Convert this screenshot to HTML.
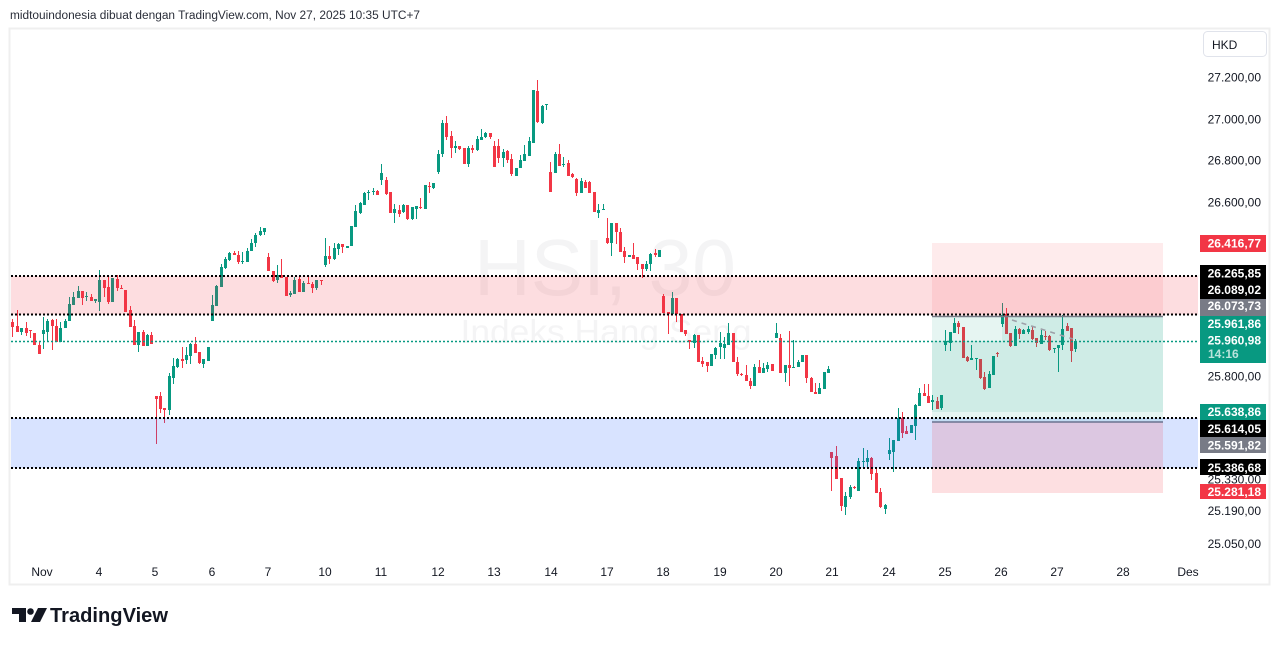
<!DOCTYPE html>
<html>
<head>
<meta charset="utf-8">
<style>
html,body{margin:0;padding:0;background:#fff;}
svg{display:block;}
text{font-family:"Liberation Sans",Arial,sans-serif;}
</style>
</head>
<body>
<svg width="1281" height="646" viewBox="0 0 1281 646" xmlns="http://www.w3.org/2000/svg">
<rect width="1281" height="646" fill="#ffffff"/>
<text x="10" y="19" font-size="11.5" fill="#2a2e39" textLength="410" lengthAdjust="spacingAndGlyphs">midtouindonesia dibuat dengan TradingView.com, Nov 27, 2025 10:35 UTC+7</text>
<rect x="9.5" y="28.5" width="1260" height="556" fill="none" stroke="#efefef" stroke-width="2"/>

<!-- watermark -->
<text x="605" y="295" font-size="80" fill="#f4f4f5" text-anchor="middle" textLength="262" lengthAdjust="spacingAndGlyphs">HSI, 30</text>
<text x="606" y="343" font-size="33" fill="#f4f4f5" text-anchor="middle" textLength="291" lengthAdjust="spacingAndGlyphs">Indeks Hang Seng</text>

<!-- green wicks -->
<path fill="none" stroke="#089981" stroke-width="1" d="M21.5 328V335 M43.5 317V349 M47.5 319V341 M60.5 322V342 M65.5 319V328 M69.5 297V321 M73.5 292V305 M78.5 286V298 M86.5 292V301 M95.5 299V303 M99.5 270V311 M112.5 278V302 M138.5 332V352 M147.5 334V346 M169.5 373V415 M173.5 358V384 M177.5 358V368 M186.5 347V364 M190.5 343V364 M203.5 359V368 M208.5 347V361 M212.5 295V321 M216.5 285V306 M221.5 264V287 M225.5 257V269 M229.5 252V261 M242.5 252V264 M247.5 248V262 M251.5 239V251 M255.5 233V247 M260.5 227V236 M264.5 228V235 M277.5 265V283 M290.5 291V297 M294.5 277V294 M303.5 281V292 M316.5 280V290 M325.5 238V267 M334.5 243V260 M338.5 243V255 M347.5 246V248 M351.5 226V246 M355.5 205V227 M360.5 202V214 M364.5 192V205 M368.5 190V200 M373.5 188V195 M381.5 164V185 M394.5 204V223 M403.5 204V213 M412.5 207V220 M416.5 206V219 M425.5 185V209 M433.5 183V189 M438.5 150V174 M442.5 120V157 M455.5 141V153 M468.5 146V167 M477.5 136V151 M481.5 129V140 M485.5 132V138 M503.5 149V167 M516.5 168V176 M520.5 155V168 M524.5 145V161 M529.5 137V156 M533.5 90V143 M542.5 105V124 M546.5 104V110 M555.5 152V173 M563.5 157V167 M581.5 178V193 M598.5 204V218 M603.5 204V210 M611.5 223V256 M629.5 255V257 M646.5 261V271 M650.5 253V271 M659.5 250V257 M672.5 292V314 M694.5 334V348 M711.5 354V366 M715.5 347V359 M720.5 332V359 M724.5 337V359 M728.5 323V345 M754.5 364V386 M763.5 363V373 M767.5 362V372 M776.5 323V338 M785.5 365V382 M793.5 340V368 M798.5 360V367 M802.5 355V362 M819.5 383V394 M824.5 372V389 M828.5 366V373 M845.5 492V515 M850.5 485V499 M858.5 458V491 M863.5 448V468 M867.5 450V467 M885.5 504V514 M889.5 438V460 M893.5 440V472 M898.5 408V441 M911.5 425V433 M915.5 404V440 M919.5 388V406 M932.5 395V410 M941.5 395V410 M945.5 330V351 M950.5 332V351 M954.5 318V333 M971.5 345V360 M976.5 358V370 M989.5 371V388 M993.5 356V375 M1002.5 303V327 M1015.5 326V346 M1023.5 329V334 M1028.5 326V334 M1041.5 330V344 M1054.5 348V353 M1058.5 345V372 M1062.5 315V350 M1075.5 339V352"/>
<!-- green bodies -->
<path fill="#089981" d="M20 328h3V332h-3z M42 330h3V334h-3z M46 321h3V332h-3z M59 328h3V342h-3z M64 321h3V328h-3z M68 304h3V321h-3z M72 297h3V305h-3z M77 291h3V298h-3z M85 296h3V297h-3z M94 299h3V301h-3z M98 280h3V302h-3z M111 278h3V302h-3z M137 332h3V345h-3z M146 335h3V346h-3z M168 376h3V410h-3z M172 366h3V378h-3z M176 359h3V367h-3z M185 355h3V360h-3z M189 344h3V356h-3z M202 359h3V364h-3z M207 347h3V361h-3z M211 305h3V321h-3z M215 286h3V306h-3z M220 267h3V287h-3z M224 259h3V268h-3z M228 253h3V260h-3z M241 261h3V262h-3z M246 251h3V262h-3z M250 243h3V251h-3z M254 235h3V243h-3z M259 231h3V235h-3z M263 228h3V232h-3z M276 275h3V280h-3z M289 293h3V295h-3z M293 280h3V294h-3z M302 283h3V292h-3z M315 280h3V288h-3z M324 256h3V265h-3z M333 248h3V259h-3z M337 244h3V249h-3z M346 246h3V248h-3z M350 226h3V246h-3z M354 211h3V227h-3z M359 203h3V213h-3z M363 193h3V205h-3z M367 192h3V193h-3z M372 191h3V192h-3z M380 173h3V180h-3z M393 209h3V213h-3z M402 205h3V212h-3z M411 207h3V219h-3z M415 206h3V209h-3z M424 185h3V209h-3z M432 183h3V188h-3z M437 154h3V172h-3z M441 123h3V154h-3z M454 146h3V148h-3z M467 148h3V164h-3z M476 139h3V150h-3z M480 137h3V140h-3z M484 133h3V137h-3z M502 152h3V158h-3z M515 168h3V176h-3z M519 160h3V168h-3z M523 154h3V161h-3z M528 141h3V156h-3z M532 90h3V143h-3z M541 106h3V123h-3z M545 104h3V105h-3z M554 154h3V173h-3z M562 164h3V165h-3z M580 181h3V193h-3z M597 210h3V213h-3z M602 209h3V210h-3z M610 223h3V243h-3z M628 255h3V257h-3z M645 264h3V269h-3z M649 254h3V264h-3z M658 250h3V257h-3z M671 298h3V314h-3z M693 335h3V343h-3z M710 354h3V366h-3z M714 348h3V355h-3z M719 343h3V347h-3z M723 344h3V348h-3z M727 333h3V345h-3z M753 367h3V386h-3z M762 368h3V373h-3z M766 365h3V369h-3z M775 333h3V338h-3z M784 365h3V373h-3z M792 367h3V368h-3z M797 362h3V367h-3z M801 355h3V362h-3z M818 388h3V394h-3z M823 372h3V389h-3z M827 369h3V373h-3z M844 496h3V507h-3z M849 487h3V497h-3z M857 461h3V491h-3z M862 461h3V462h-3z M866 458h3V462h-3z M884 505h3V509h-3z M888 450h3V454h-3z M892 440h3V452h-3z M897 418h3V441h-3z M910 425h3V433h-3z M914 405h3V426h-3z M918 393h3V406h-3z M931 400h3V402h-3z M940 395h3V408h-3z M944 341h3V345h-3z M949 332h3V343h-3z M953 323h3V333h-3z M970 358h3V360h-3z M975 358h3V359h-3z M988 374h3V388h-3z M992 356h3V375h-3z M1001 315h3V324h-3z M1014 329h3V346h-3z M1022 330h3V334h-3z M1027 329h3V332h-3z M1040 335h3V344h-3z M1053 348h3V349h-3z M1057 345h3V348h-3z M1061 329h3V345h-3z M1074 341h3V349h-3z"/>
<!-- red wicks -->
<path fill="none" stroke="#f23645" stroke-width="1" d="M12.5 319V337 M17.5 310V332 M26.5 322V336 M30.5 330V338 M34.5 333V345 M39.5 341V354 M52.5 319V350 M56.5 319V342 M82.5 291V305 M91.5 294V301 M104.5 280V297 M108.5 275V304 M117.5 275V291 M121.5 285V289 M125.5 290V312 M130.5 306V327 M134.5 320V345 M143.5 330V346 M151.5 332V344 M156.5 396V444 M160.5 392V413 M164.5 408V423 M182.5 347V368 M195.5 337V353 M199.5 352V364 M234.5 251V255 M238.5 251V264 M268.5 253V271 M273.5 271V282 M281.5 259V278 M286.5 277V296 M299.5 276V292 M308.5 277V284 M312.5 282V293 M321.5 280V285 M329.5 246V264 M342.5 244V253 M377.5 190V195 M386.5 177V195 M390.5 192V213 M399.5 205V217 M407.5 205V220 M420.5 198V209 M429.5 182V193 M446.5 116V140 M451.5 131V158 M459.5 146V150 M464.5 148V164 M472.5 145V153 M490.5 133V139 M494.5 141V167 M498.5 139V163 M507.5 150V163 M511.5 154V176 M537.5 80V123 M550.5 162V192 M559.5 144V166 M568.5 160V176 M572.5 173V178 M576.5 178V196 M585.5 180V188 M589.5 181V193 M594.5 192V212 M607.5 218V244 M616.5 223V244 M620.5 228V252 M624.5 247V263 M633.5 243V259 M637.5 257V270 M642.5 264V278 M655.5 249V257 M663.5 294V313 M668.5 312V334 M676.5 298V322 M681.5 314V332 M685.5 330V336 M689.5 340V349 M698.5 335V362 M702.5 357V367 M707.5 362V372 M733.5 333V362 M737.5 357V376 M741.5 373V376 M746.5 365V381 M750.5 378V389 M759.5 360V373 M772.5 364V371 M780.5 334V373 M789.5 331V386 M806.5 355V383 M811.5 377V392 M815.5 383V394 M831.5 452V491 M836.5 446V479 M841.5 478V511 M854.5 486V489 M871.5 457V480 M876.5 468V493 M880.5 488V508 M902.5 412V438 M906.5 426V434 M924.5 384V396 M928.5 384V403 M937.5 397V409 M958.5 321V334 M963.5 327V358 M967.5 356V362 M980.5 359V379 M984.5 372V390 M997.5 352V357 M1006.5 308V334 M1010.5 333V347 M1019.5 328V339 M1032.5 327V340 M1036.5 338V347 M1045.5 331V340 M1049.5 335V351 M1067.5 323V331 M1071.5 328V362"/>
<!-- red bodies -->
<path fill="#f23645" d="M11 322h3V327h-3z M16 326h3V332h-3z M25 328h3V333h-3z M29 330h3V331h-3z M33 333h3V345h-3z M38 345h3V354h-3z M51 320h3V326h-3z M55 326h3V342h-3z M81 291h3V298h-3z M90 297h3V301h-3z M103 280h3V288h-3z M107 287h3V302h-3z M116 279h3V288h-3z M120 288h3V289h-3z M124 290h3V312h-3z M129 310h3V327h-3z M133 326h3V345h-3z M142 332h3V346h-3z M150 335h3V344h-3z M155 396h3V399h-3z M159 396h3V409h-3z M163 408h3V410h-3z M181 359h3V361h-3z M194 344h3V353h-3z M198 352h3V363h-3z M233 253h3V255h-3z M237 255h3V262h-3z M267 257h3V271h-3z M272 271h3V281h-3z M280 275h3V278h-3z M285 277h3V296h-3z M298 279h3V292h-3z M307 283h3V284h-3z M311 284h3V288h-3z M320 280h3V281h-3z M328 256h3V259h-3z M341 244h3V247h-3z M376 191h3V195h-3z M385 180h3V194h-3z M389 192h3V213h-3z M398 210h3V214h-3z M406 205h3V219h-3z M419 207h3V208h-3z M428 186h3V187h-3z M445 123h3V137h-3z M450 136h3V148h-3z M458 146h3V149h-3z M463 148h3V164h-3z M471 148h3V150h-3z M489 133h3V137h-3z M493 146h3V167h-3z M497 146h3V158h-3z M506 151h3V160h-3z M510 159h3V174h-3z M536 91h3V122h-3z M549 172h3V192h-3z M558 154h3V166h-3z M567 163h3V176h-3z M571 174h3V177h-3z M575 179h3V193h-3z M584 182h3V188h-3z M588 182h3V193h-3z M593 192h3V212h-3z M606 238h3V243h-3z M615 223h3V232h-3z M619 232h3V252h-3z M623 251h3V257h-3z M632 255h3V259h-3z M636 257h3V264h-3z M641 264h3V269h-3z M654 253h3V255h-3z M662 296h3V313h-3z M667 312h3V314h-3z M675 298h3V314h-3z M680 314h3V332h-3z M684 330h3V334h-3z M688 340h3V342h-3z M697 335h3V362h-3z M701 361h3V364h-3z M706 362h3V366h-3z M732 333h3V362h-3z M736 362h3V374h-3z M740 374h3V375h-3z M745 375h3V381h-3z M749 381h3V386h-3z M758 367h3V373h-3z M771 364h3V371h-3z M779 338h3V373h-3z M788 365h3V368h-3z M805 355h3V378h-3z M810 378h3V392h-3z M814 392h3V394h-3z M830 452h3V458h-3z M835 456h3V479h-3z M840 478h3V506h-3z M853 487h3V488h-3z M870 458h3V474h-3z M875 473h3V493h-3z M879 492h3V507h-3z M901 418h3V433h-3z M905 431h3V434h-3z M923 393h3V396h-3z M927 396h3V403h-3z M936 401h3V409h-3z M957 323h3V327h-3z M962 327h3V358h-3z M966 357h3V361h-3z M979 359h3V378h-3z M983 377h3V389h-3z M996 353h3V354h-3z M1005 314h3V334h-3z M1009 333h3V346h-3z M1018 329h3V334h-3z M1031 330h3V339h-3z M1035 338h3V343h-3z M1044 336h3V337h-3z M1048 336h3V350h-3z M1066 326h3V331h-3z M1070 328h3V351h-3z"/>

<!-- zones -->
<rect x="11" y="276" width="1187" height="38.5" fill="rgba(242,54,69,0.17)"/>
<rect x="11" y="418" width="1187" height="50" fill="rgba(41,98,255,0.18)"/>

<!-- position tools -->
<rect x="932" y="243" width="231" height="73" fill="rgba(242,54,69,0.1)"/>
<rect x="932" y="316" width="231" height="96" fill="rgba(8,153,129,0.1)"/>
<rect x="932" y="341" width="231" height="81" fill="rgba(8,153,129,0.1)"/>
<rect x="1002" y="317" width="161" height="24" fill="rgba(8,153,129,0.1)"/>
<rect x="932" y="422" width="231" height="71" fill="rgba(242,54,69,0.16)"/>
<line x1="932" y1="316.5" x2="1163" y2="316.5" stroke="#787b86" stroke-width="1.5"/>
<line x1="932" y1="422" x2="1163" y2="422" stroke="#6b7390" stroke-width="1.5"/>
<line x1="1012" y1="320" x2="1073" y2="339" stroke="#9da0a8" stroke-width="1.6" stroke-dasharray="5 5"/>

<!-- dotted lines -->
<g stroke="#000000" stroke-width="2" stroke-dasharray="2 2">
<line x1="11" y1="276" x2="1198" y2="276"/>
<line x1="11" y1="314.5" x2="1198" y2="314.5"/>
<line x1="11" y1="418" x2="1198" y2="418"/>
<line x1="11" y1="468" x2="1198" y2="468"/>
</g>
<line x1="11" y1="341.5" x2="1198" y2="341.5" stroke="#089981" stroke-width="1.6" stroke-dasharray="2 2"/>

<!-- price axis -->
<rect x="1203.5" y="31.5" width="63" height="25" rx="4" fill="#fff" stroke="#e0e3eb"/>
<text x="1212" y="49" font-size="12" fill="#131722">HKD</text>
<g font-size="12" fill="#131722" text-anchor="end">
<text x="1261" y="81.5">27.200,00</text>
<text x="1261" y="123.5">27.000,00</text>
<text x="1261" y="164.5">26.800,00</text>
<text x="1261" y="206.5">26.600,00</text>
<text x="1261" y="380.5">25.800,00</text>
<text x="1261" y="483.5">25.330,00</text>
<text x="1261" y="515">25.190,00</text>
<text x="1261" y="548">25.050,00</text>
</g>
<rect x="1200" y="235" width="66" height="17" fill="#f23645"/>
<rect x="1200" y="265" width="66" height="34" fill="#000000"/>
<rect x="1200" y="299" width="66" height="17" fill="#787b86"/>
<rect x="1200" y="316" width="66" height="47" fill="#089981"/>
<rect x="1200" y="404" width="66" height="16" fill="#089981"/>
<rect x="1200" y="420" width="66" height="17" fill="#000000"/>
<rect x="1200" y="437" width="66" height="16" fill="#787b86"/>
<rect x="1200" y="459" width="66" height="16" fill="#000000"/>
<rect x="1200" y="484" width="66" height="15" fill="#f23645"/>
<g font-size="12" font-weight="bold" fill="#ffffff" text-anchor="end">
<text x="1261" y="247.5">26.416,77</text>
<text x="1261" y="277.5">26.265,85</text>
<text x="1261" y="294">26.089,02</text>
<text x="1261" y="310">26.073,73</text>
<text x="1261" y="328">25.961,86</text>
<text x="1261" y="344.5">25.960,98</text>
<text x="1261" y="416">25.638,86</text>
<text x="1261" y="433">25.614,05</text>
<text x="1261" y="449.5">25.591,82</text>
<text x="1261" y="472">25.386,68</text>
<text x="1261" y="496">25.281,18</text>
</g>
<text x="1208" y="358" font-size="12" font-weight="bold" fill="rgba(255,255,255,0.72)">14:16</text>

<!-- time axis -->
<g font-size="12" fill="#131722" text-anchor="middle">
<text x="42" y="576">Nov</text>
<text x="99" y="576">4</text>
<text x="155" y="576">5</text>
<text x="212" y="576">6</text>
<text x="268" y="576">7</text>
<text x="325" y="576">10</text>
<text x="381" y="576">11</text>
<text x="438" y="576">12</text>
<text x="494" y="576">13</text>
<text x="551" y="576">14</text>
<text x="607" y="576">17</text>
<text x="663" y="576">18</text>
<text x="720" y="576">19</text>
<text x="776" y="576">20</text>
<text x="832" y="576">21</text>
<text x="889" y="576">24</text>
<text x="945" y="576">25</text>
<text x="1001" y="576">26</text>
<text x="1057" y="576">27</text>
<text x="1123" y="576">28</text>
<text x="1188" y="576">Des</text>
</g>

<!-- logo -->
<g fill="#131722">
<path d="M12 608h14v14h-7v-8h-7z"/>
<circle cx="30.5" cy="611.5" r="3.3"/>
<path d="M38 608h9l-7 14h-9z"/>
</g>
<text x="50" y="622" font-size="20" font-weight="bold" fill="#131722" textLength="118" lengthAdjust="spacingAndGlyphs">TradingView</text>
</svg>
</body>
</html>
